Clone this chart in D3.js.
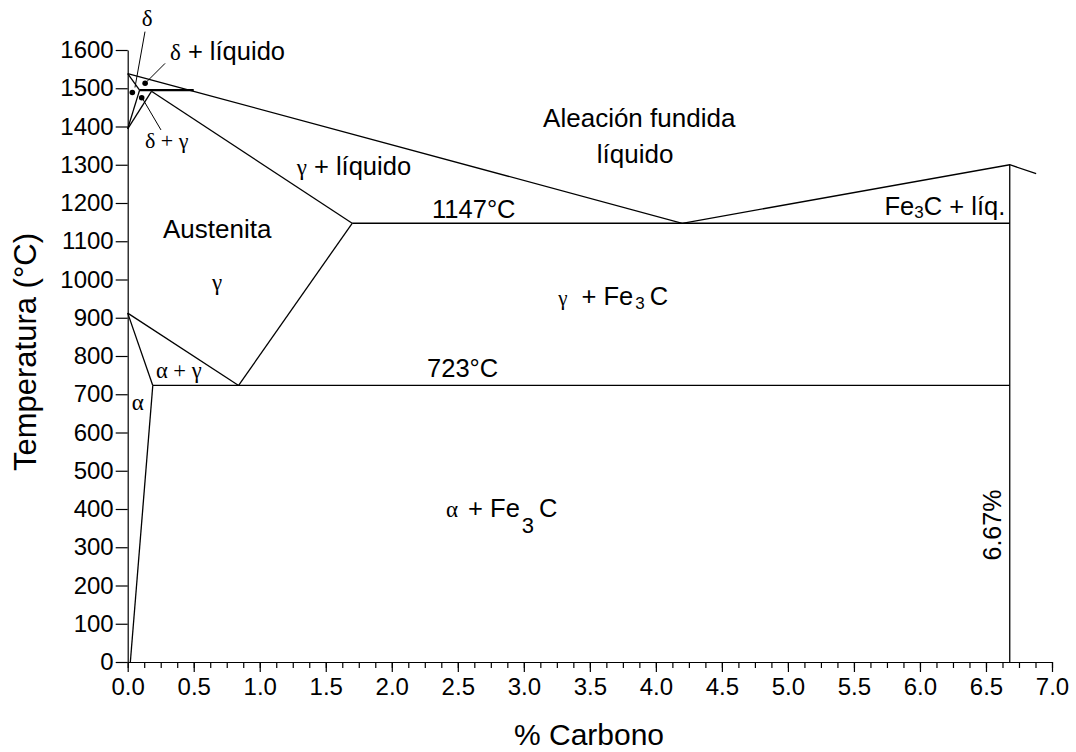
<!DOCTYPE html>
<html>
<head>
<meta charset="utf-8">
<script src="https://cdn.jsdelivr.net/npm/d3@7"></script>
<style>
  html, body { margin: 0; padding: 0; background: #fff; }
  svg { display: block; }
  .sans { font-family: "Liberation Sans", Arial, sans-serif; }
  .serif { font-family: "Liberation Serif", "Times New Roman", serif; }
</style>
</head>
<body>
<svg id="chart" width="1076" height="752"></svg>
<script>
// ---------- DATA (x = % carbon, y = temperature °C) ----------
const xMajorTicks = [0, 0.5, 1, 1.5, 2, 2.5, 3, 3.5, 4, 4.5, 5, 5.5, 6, 6.5, 7];
const xMinorTicks = d3.range(0, 7.0001, 0.125);
const yTicks = [0, 100, 200, 300, 400, 500, 600, 700, 800, 900, 1000, 1100, 1200, 1300, 1400, 1500, 1600];

const liquidus      = [[0, 1538], [0.5, 1492], [4.2, 1147], [6.68, 1300], [6.88, 1277]];
const deltaLiquid   = [[0, 1538], [0.09, 1495]];
const deltaSolvus   = [[0.09, 1495], [0, 1394]];
const gammaDelta    = [[0, 1394], [0.18, 1492]];
const gammaSolidus  = [[0.18, 1492], [1.7, 1147]];
const peritectic    = [[0.09, 1495], [0.5, 1495]];
const eutectic      = [[1.7, 1147], [6.68, 1147]];
const acmLine       = [[0.84, 723], [1.7, 1147]];
const a3Line        = [[0, 912], [0.84, 723]];
const alphaGamma    = [[0, 912], [0.19, 723]];
const alphaSolvus   = [[0.19, 723], [0.02, 0]];
const eutectoid     = [[0.19, 723], [6.68, 723]];
const cementite     = [[6.68, 0], [6.68, 1300]];

const dots = [[0.035, 1489], [0.132, 1513], [0.106, 1475]];
const leaders = [
  [[0.131, 1648], [0.055, 1502]],
  [[0.283, 1565], [0.144, 1517]],
  [[0.252, 1391], [0.114, 1472]]
];

// ---------- SETUP ----------
const svg = d3.select("#chart");
const x = d3.scaleLinear().domain([0, 7]).range([127.7, 1052]);
const y = d3.scaleLinear().domain([0, 1600]).range([662, 50]);
const line = d3.line().x(d => x(d[0])).y(d => y(d[1]));

// ---------- AXES ----------
const gx = svg.append("g").attr("transform", `translate(0,${y(0)})`);
gx.call(d3.axisBottom(x).tickValues(xMinorTicks).tickSize(6).tickSizeOuter(0).tickFormat(""));
gx.selectAll("path").remove();
const gx2 = svg.append("g").attr("transform", `translate(0,${y(0)})`);
gx2.call(d3.axisBottom(x).tickValues(xMajorTicks).tickSize(10).tickSizeOuter(0)
  .tickPadding(6).tickFormat(d3.format(".1f")));

const gy = svg.append("g").attr("transform", `translate(${x(0)},0)`);
gy.call(d3.axisLeft(y).tickValues(yTicks).tickSize(12).tickSizeOuter(0).tickPadding(2).tickFormat(d3.format("d")));

svg.selectAll(".tick line, .domain").attr("stroke", "#000").attr("stroke-width", 1.2);
gx2.selectAll("text").attr("class", "sans").attr("font-size", 24).attr("fill", "#000").attr("font-family", null);
gy.selectAll("text").attr("class", "sans").attr("font-size", 24).attr("fill", "#000").attr("font-family", null);

// ---------- PHASE LINES ----------
const thin = [liquidus, deltaLiquid, deltaSolvus, gammaDelta, gammaSolidus, eutectic,
              acmLine, a3Line, alphaGamma, alphaSolvus, eutectoid, cementite];
svg.append("g").selectAll("path").data(thin).join("path")
  .attr("d", line).attr("fill", "none").attr("stroke", "#000").attr("stroke-width", 1.3);
svg.append("path").datum(peritectic).attr("d", line)
  .attr("fill", "none").attr("stroke", "#000").attr("stroke-width", 2.2);

svg.append("g").selectAll("path").data(leaders).join("path")
  .attr("d", line).attr("fill", "none").attr("stroke", "#000").attr("stroke-width", 1);
svg.append("g").selectAll("circle").data(dots).join("circle")
  .attr("cx", d => x(d[0])).attr("cy", d => y(d[1])).attr("r", 2.8).attr("fill", "#000");

// ---------- LABELS ----------
function label(xv, yv, anchor) {
  return svg.append("text").attr("x", x(xv)).attr("y", y(yv))
    .attr("text-anchor", anchor || "start").attr("fill", "#000");
}
function sp(t, txt, cls, size, dy, dx) {
  const s = t.append("tspan").attr("class", cls).attr("font-size", size).text(txt);
  if (dy) s.attr("dy", dy);
  if (dx) s.attr("dx", dx);
  return s;
}

let t;
t = label(0.147, 1663, "middle"); sp(t, "δ", "serif", 23);
t = label(0.32, 1574); sp(t, "δ", "serif", 23); sp(t, " + líquido", "sans", 25.5);
t = label(0.131, 1344); sp(t, "δ + γ", "serif", 22);
t = label(3.874, 1399.5, "middle"); sp(t, "Aleación fundida", "sans", 26);
t = label(3.843, 1303.8, "middle"); sp(t, "líquido", "sans", 26);
t = label(1.28, 1273); sp(t, "γ", "serif", 23); sp(t, " + líquido", "sans", 25.5);
t = label(2.305, 1161.6); sp(t, "1147°C", "sans", 25.5);
t = label(6.646, 1168.6, "end"); sp(t, "Fe", "sans", 25.5); sp(t, "3", "sans", 17, 3); sp(t, "C + líq.", "sans", 25.5, -3);
t = label(0.267, 1107.7); sp(t, "Austenita", "sans", 26);
t = label(0.677, 972.5, "middle"); sp(t, "γ", "serif", 23);
t = label(3.26, 933); sp(t, "γ", "serif", 21); sp(t, "+ Fe", "sans", 25.5, null, 14);
  sp(t, "3", "sans", 17, 4, 2); sp(t, "C", "sans", 25.5, -4, 5);
t = label(2.267, 745); sp(t, "723°C", "sans", 25.5);
t = label(2.411, 379); sp(t, "α", "serif", 23); sp(t, "+ Fe", "sans", 25.5, null, 10);
  sp(t, "3", "sans", 22, 16, 2); sp(t, "C", "sans", 25.5, -16, 5);
t = label(0.214, 742.5); sp(t, "α + γ", "serif", 22.5);
t = label(0.03, 659); sp(t, "α", "serif", 23);

svg.append("text").attr("class", "sans").attr("font-size", 25)
  .attr("text-anchor", "middle")
  .attr("transform", `translate(${x(6.616)},${y(358)}) rotate(-90)`).text("6.67%");

// axis titles
svg.append("text").attr("class", "sans").attr("font-size", 31).attr("text-anchor", "middle")
  .attr("transform", `translate(36,${(y(0) + y(1600)) / 2 - 4}) rotate(-90)`).text("Temperatura (°C)");
svg.append("text").attr("class", "sans").attr("font-size", 30).attr("text-anchor", "middle")
  .attr("x", 589).attr("y", 745).text("% Carbono");
</script>
</body>
</html>
